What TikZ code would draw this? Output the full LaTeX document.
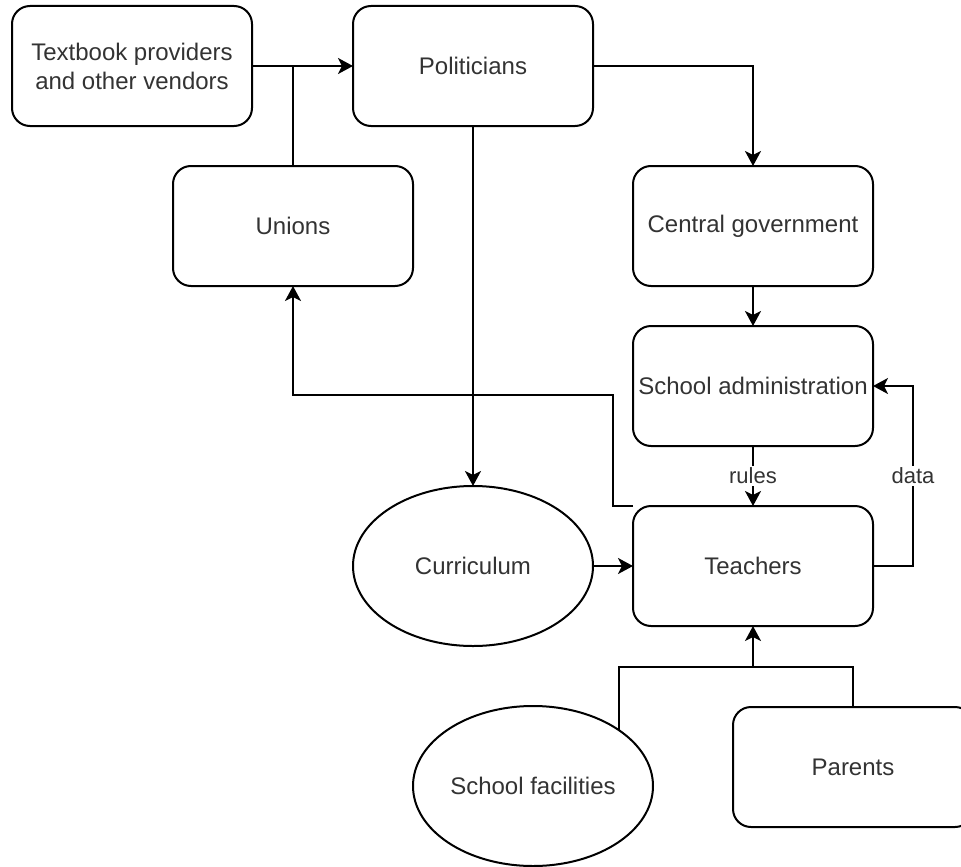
\documentclass[tikz,border=0pt]{standalone}
\usepackage{fontspec}
\setmainfont{Liberation Sans}
\usepackage{tikz}
\usetikzlibrary{positioning}
\usetikzlibrary{calc,shapes.geometric}
\usetikzlibrary{arrows.meta}
\colorlet{txtcol}{black!80}
\tikzset{
  box/.style={draw, line width=2pt, rounded corners=18pt, minimum width=240pt,
    minimum height=120pt, inner sep=0pt, outer sep=0pt, align=center,
    text=txtcol, font=\fontsize{24}{29}\selectfont},
  oval/.style={draw, ellipse, line width=2pt, minimum width=240pt,
    minimum height=160pt, inner sep=0pt, outer sep=0pt,
    text=txtcol, font=\fontsize{24}{29}\selectfont},
  flow/.style={line width=2pt},
  arr/.style={flow, -{Stealth[length=15pt,width=16pt,inset=4pt]}},
  lbl/.style={fill=white, inner sep=2pt, text=txtcol,
    font=\fontsize{22}{26}\selectfont}
}

\begin{document}
\begin{tikzpicture}[x=1pt, y=-1pt]
    % page frame, same size as the drawing
    \useasboundingbox (0,0) rectangle (961,867);
    \clip (0,0) rectangle (961,867);

    % top row
    \node[box] (vend) at (132,66) {Textbook providers\\and other vendors};
    \node[box] (pol) at (473,66) {Politicians};
    \node[box] (uni) at (293,226) {Unions};

    % right column
    \node[box] (cgov) at (753,226) {Central government};
    \node[box] (sadm) at (753,386) {School administration};
    \node[box] (teach) at (753,566) {Teachers};

    % bottom part
    \node[oval] (curr) at (473,566) {Curriculum};
    \node[oval] (fac) at (533,786) {School facilities};
    \node[box] (par) at (853,767) {Parents};

    % junction points
    \coordinate (uvj) at (vend.east -| uni.north);
    \coordinate (tj) at ($(teach.south)+(0,41)$);

    % links at the top
    \draw[arr] (vend.east) -- (pol.west);
    \draw[flow] (uni.north) -- (uvj);
    \draw[arr] (pol.east) -| (cgov.north);
    \draw[arr] (pol.south) -- (curr.north);

    % chain down to the teachers
    \draw[arr] (cgov.south) -- (sadm.north);
    \draw[arr] (sadm.south) -- (teach.north) node[lbl, midway] {rules};
    \draw[arr] (teach.east) -- ++(40,0) |- (sadm.east) node[lbl, pos=0.25] {data};
    \draw[arr] (teach.north west) -- ++(-20,0) -- ++(0,-111) -| (uni.south);
    \draw[arr] (curr.east) -- (teach.west);

    % facilities and parents merge below the teachers
    \draw[flow] (fac.33.6) |- (tj);
    \draw[flow] (par.north) |- (tj);
    \draw[arr] (tj) -- (teach.south);
\end{tikzpicture}
\end{document}
